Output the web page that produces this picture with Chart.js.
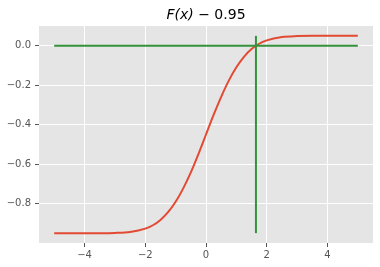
<!DOCTYPE html>
<html>
<head>
<meta charset="utf-8">
<script src="https://cdn.jsdelivr.net/npm/chart.js@4/dist/chart.umd.min.js"></script>
<style>
  html, body { margin: 0; padding: 0; background: #fff; }
  #wrap { width: 380px; height: 267px; }
</style>
</head>
<body>
<div id="wrap"><canvas id="cdf-chart" width="380" height="267"></canvas></div>
<script>
// values: F(x) - 0.95
const xs = [-5, -4.5, -4, -3.5, -3, -2.5, -2, -1.75, -1.5, -1.25, -1, -0.75, -0.5, -0.25, 0,
  0.25, 0.5, 0.75, 1, 1.25, 1.5, 1.75, 2, 2.5, 3, 3.5, 4, 4.5, 5]
const ys = [-0.95, -0.95, -0.95, -0.95, -0.949, -0.944, -0.927, -0.910, -0.883, -0.844, -0.791, -0.723, -0.642, -0.549, -0.45,
  -0.351, -0.259, -0.177, -0.109, -0.056, -0.017, 0.010, 0.027, 0.044, 0.049, 0.05, 0.05, 0.05, 0.05]
const hlineX = [-5, 5]
const hlineY = [0, 0]
const vlineX = [1.645, 1.645]
const vlineY = [-0.95, 0.05]
const xTicks = [-4, -2, 0, 2, 4]
const yTicks = [-0.8, -0.6, -0.4, -0.2, 0.0]
const titleMath = 'F(x)'
const titleRest = ' \u2212 0.95'

function pts(a, b) {
  return a.map((v, i) => ({ x: v, y: b[i] }))
}

function minus(s) {
  return String(s).replace('-', '\u2212')
}

const bgPlugin = {
  id: 'bg',
  beforeDraw(chart) {
    const { ctx, chartArea } = chart
    ctx.save()
    ctx.fillStyle = '#E5E5E5'
    ctx.fillRect(chartArea.left, chartArea.top, chartArea.right - chartArea.left, chartArea.bottom - chartArea.top)
    ctx.restore()
  },
  afterDraw(chart) {
    const { ctx, chartArea } = chart
    ctx.save()
    ctx.fillStyle = '#000'
    ctx.textBaseline = 'alphabetic'
    const f1 = 'italic 14px "DejaVu Sans"'
    const f2 = '14px "DejaVu Sans"'
    ctx.font = f1
    const w1 = ctx.measureText(titleMath).width
    ctx.font = f2
    const w2 = ctx.measureText(titleRest).width
    const cx = (chartArea.left + chartArea.right) / 2
    let x = cx - (w1 + w2) / 2
    ctx.font = f1
    ctx.fillText(titleMath, x, 19)
    ctx.font = f2
    ctx.fillText(titleRest, x + w1, 19)
    ctx.restore()
  }
}

const config = {
  type: 'line',
  data: {
    datasets: [{
      data: pts(xs, ys),
      borderColor: '#E24A33',
      borderWidth: 2,
      pointRadius: 0,
      cubicInterpolationMode: 'monotone',
      order: 2
    }, {
      data: pts(hlineX, hlineY),
      borderColor: '#34933a',
      borderWidth: 2,
      pointRadius: 0,
      order: 1
    }, {
      data: pts(vlineX, vlineY),
      borderColor: '#34933a',
      borderWidth: 2,
      pointRadius: 0,
      order: 1
    }]
  },
  options: {
    responsive: false,
    animation: false,
    layout: {
      padding: { top: 26, right: 7, left: 0, bottom: 0 }
    },
    plugins: {
      legend: { display: false },
      tooltip: { enabled: false }
    },
    scales: {
      x: {
        type: 'linear',
        min: -5.5,
        max: 5.5,
        afterBuildTicks: (axis) => { axis.ticks = xTicks.map(v => ({ value: v })) },
        afterFit: (axis) => { axis.height = 24 },
        border: { display: false },
        grid: {
          color: '#FFFFFF',
          lineWidth: 1,
          tickColor: '#555555',
          tickLength: 4
        },
        ticks: {
          color: '#555555',
          padding: 2,
          maxRotation: 0,
          font: { family: 'DejaVu Sans', size: 10 },
          callback: (v) => minus(v)
        }
      },
      y: {
        type: 'linear',
        min: -1.0,
        max: 0.1,
        afterBuildTicks: (axis) => { axis.ticks = yTicks.map(v => ({ value: v })) },
        afterFit: (axis) => { axis.width = 39 },
        border: { display: false },
        grid: {
          color: '#FFFFFF',
          lineWidth: 1,
          tickColor: '#555555',
          tickLength: 4
        },
        ticks: {
          color: '#555555',
          padding: 4,
          font: { family: 'DejaVu Sans', size: 10 },
          callback: (v) => minus(v.toFixed(1))
        }
      }
    }
  },
  plugins: [bgPlugin]
}

const chartEl = document.getElementById('cdf-chart').getContext('2d')
const chart = new Chart(chartEl, config)
</script>
</body>
</html>
